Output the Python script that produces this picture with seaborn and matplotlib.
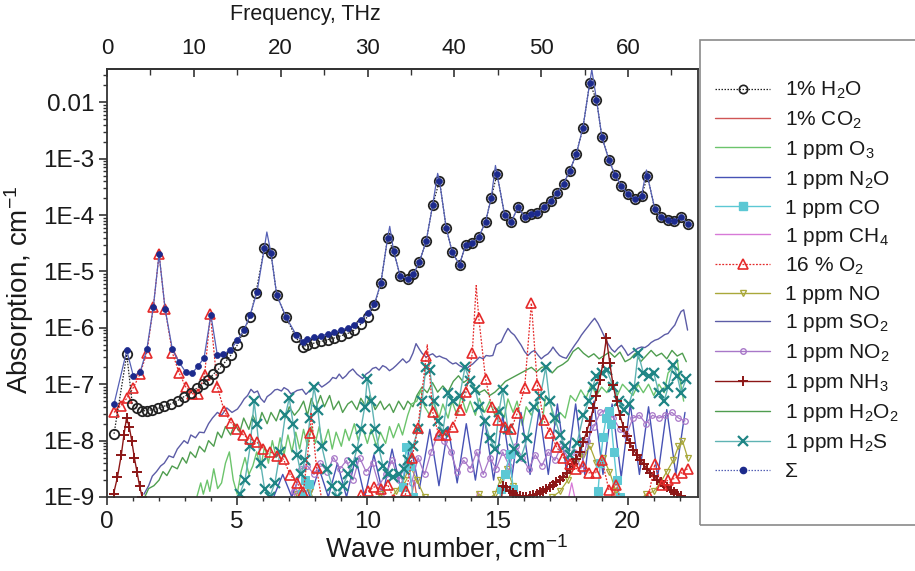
import numpy as np
import matplotlib
matplotlib.use("Agg")
import matplotlib.pyplot as plt
from matplotlib.lines import Line2D
from matplotlib.patches import Rectangle
from matplotlib.ticker import FixedLocator, MultipleLocator, NullFormatter
import seaborn as sns

# ---- data: wave number and log10(absorption, cm-1) ----
h2o_x = [0.27, 0.76, 0.97, 1.17, 1.36, 1.55, 1.74, 1.96, 2.19, 2.45, 2.71, 2.96, 3.22, 3.45, 3.67,
         3.88, 4.09, 4.31, 4.53, 4.75, 5.01, 5.24, 5.49, 5.72, 6.04, 6.3, 6.52, 6.87, 7.26, 7.51,
         7.7, 7.96, 8.22, 8.47, 8.73, 8.99, 9.24, 9.5, 9.76, 10.01, 10.27, 10.52, 10.78, 11.01,
         11.26, 11.55, 11.77, 12.0, 12.26, 12.51, 12.77, 13.03, 13.26, 13.54, 13.77, 14.03, 14.28,
         14.54, 14.76, 14.98, 15.27, 15.53, 15.78, 16.04, 16.27, 16.53, 16.78, 17.04, 17.3, 17.54,
         17.77, 18.03, 18.28, 18.54, 18.8, 19.01, 19.28, 19.51, 19.76, 20.01, 20.27, 20.53, 20.76,
         21.04, 21.27, 21.53, 21.78, 22.04, 22.3]
h2o_lg = [-7.88, -6.47, -7.35, -7.43, -7.47, -7.47, -7.45, -7.43, -7.39, -7.35, -7.29, -7.22, -7.15,
          -7.07, -7.0, -6.92, -6.82, -6.72, -6.61, -6.49, -6.3, -6.06, -5.81, -5.38, -4.59, -4.68,
          -5.42, -5.81, -6.17, -6.34, -6.3, -6.27, -6.24, -6.21, -6.18, -6.14, -6.1, -6.04, -5.93,
          -5.8, -5.6, -5.2, -4.4, -4.64, -5.08, -5.13, -5.05, -4.83, -4.46, -3.82, -3.39, -4.23,
          -4.66, -4.88, -4.53, -4.49, -4.39, -4.12, -3.69, -3.27, -3.99, -4.12, -3.86, -4.03, -3.98,
          -3.96, -3.86, -3.75, -3.6, -3.44, -3.22, -2.91, -2.45, -1.66, -1.95, -2.62, -3.02, -3.29,
          -3.48, -3.63, -3.72, -3.66, -3.31, -3.89, -4.03, -4.09, -4.11, -4.03, -4.15]

sum_x = [0.27, 0.76, 1.01, 1.27, 1.53, 1.78, 2.0, 2.23, 2.51, 2.77, 3.03, 3.28, 3.51, 3.73, 3.99,
         4.24, 4.47, 4.73, 5.01, 5.27, 5.49, 5.76, 6.04, 6.3, 6.52, 6.87, 7.26, 7.51, 7.7, 7.96,
         8.22, 8.47, 8.73, 8.99, 9.24, 9.5, 9.76, 10.01, 10.27, 10.52, 10.78, 11.01, 11.26, 11.55,
         11.77, 12.0, 12.26, 12.51, 12.77, 13.03, 13.26, 13.54, 13.77, 14.03, 14.28, 14.54, 14.76,
         14.98, 15.27, 15.53, 15.78, 16.04, 16.27, 16.53, 16.78, 17.04, 17.3, 17.54, 17.77, 18.03,
         18.28, 18.54, 18.8, 19.01, 19.28, 19.51, 19.76, 20.01, 20.27, 20.53, 20.76, 21.04, 21.27,
         21.53, 21.78, 22.04, 22.3]
sum_lg = [-7.35, -6.4, -6.85, -6.79, -6.38, -5.63, -4.69, -5.66, -6.38, -6.61, -6.79, -6.8, -6.67,
          -6.53, -5.77, -6.49, -6.46, -6.4, -6.22, -6.03, -5.78, -5.37, -4.59, -4.68, -5.42, -5.8,
          -6.12, -6.25, -6.2, -6.17, -6.14, -6.11, -6.08, -6.04, -6.0, -5.95, -5.86, -5.74, -5.58,
          -5.2, -4.4, -4.64, -5.08, -5.13, -5.05, -4.83, -4.46, -3.82, -3.39, -4.23, -4.66, -4.88,
          -4.53, -4.49, -4.39, -4.12, -3.69, -3.27, -3.99, -4.12, -3.86, -4.03, -3.98, -3.96, -3.86,
          -3.75, -3.6, -3.44, -3.22, -2.91, -2.45, -1.66, -1.95, -2.62, -3.02, -3.29, -3.48, -3.63,
          -3.72, -3.66, -3.31, -3.89, -4.03, -4.09, -4.11, -4.03, -4.15]
# line apexes of the summed spectrum between the plotted points
sum_peak_x = [6.14, 10.86, 12.7, 14.92, 18.62, 20.72]
sum_peak_lg = [-4.3, -4.2, -3.26, -3.12, -1.42, -3.2]

o2_x = [0.27, 0.53, 0.76, 1.01, 1.27, 1.53, 1.78, 2.0, 2.23, 2.51, 2.77, 3.03, 3.28, 3.51, 3.75,
        3.97, 4.24, 4.5, 4.76, 5.01, 5.24, 5.5, 5.76, 6.01, 6.27, 6.53, 6.78, 7.04, 7.3, 7.54, 7.8,
        8.05, 8.3, 8.55, 8.8, 9.05, 9.3, 9.55, 9.76, 10.02, 10.27, 10.53, 10.78, 11.03, 11.28, 11.5,
        11.72, 11.94, 12.26, 12.51, 12.74, 13.03, 13.28, 13.54, 13.8, 14.03, 14.28, 14.54, 14.78,
        15.01, 15.27, 15.52, 15.76, 16.04, 16.3, 16.53, 16.78, 17.02, 17.28, 17.53, 17.78, 18.03,
        18.27, 18.5, 18.77, 19.01, 19.28, 19.56, 19.8, 20.05, 20.3, 20.55, 20.8, 21.04, 21.3,
        21.55, 21.83, 22.07, 22.3]
o2_lg = [-7.5, -7.38, -7.25, -7.06, -6.82, -6.44, -5.63, -4.69, -5.66, -6.44, -6.8, -7.05, -7.17,
         -7.17, -6.83, -5.75, -7.05, -7.47, -7.68, -7.8, -7.9, -7.97, -8.03, -8.14, -8.2, -8.27,
         -8.33, -8.61, -8.75, -8.92, -7.87, -8.49, -9.2, -9.4, -9.5, -9.4, -9.3, -9.15, -8.96, -8.9,
         -8.82, -8.86, -8.78, -9.05, -9.2, -8.9, -8.3, -7.77, -6.5, -7.49, -7.9, -7.9, -7.75, -7.45,
         -7.13, -6.45, -5.82, -6.91, -7.41, -7.63, -7.75, -7.8, -7.51, -7.07, -5.56, -7.02, -7.64,
         -7.87, -8.12, -8.3, -8.42, -8.5, -8.45, -8.57, -8.57, -8.34, -8.88, -8.78, -9.2, -9.4,
         -9.4, -9.2, -8.98, -8.42, -8.78, -8.7, -8.67, -8.57, -8.5]
o2_peak_x = [7.84, 12.3, 14.18]
o2_peak_lg = [-7.5, -6.3, -5.25]

so2_x = [1.42, 1.6, 1.74, 1.9, 2.06, 2.2, 2.38, 2.55, 2.7, 2.96, 3.1, 3.22, 3.4, 3.55, 3.73, 3.9,
         4.05, 4.24, 4.4, 4.6, 4.8, 5.01, 5.15, 5.27, 5.4, 5.53, 5.65, 5.78, 5.9, 6.04, 6.15, 6.3,
         6.45, 6.55, 6.7, 6.8, 6.95, 7.06, 7.2, 7.3, 7.5, 7.64, 7.9, 8.1, 8.25, 8.41, 8.55, 8.67,
         8.8, 8.92, 9.05, 9.18, 9.3, 9.44, 9.6, 9.82, 9.95, 10.08, 10.2, 10.33, 10.45, 10.59, 10.72,
         10.85, 10.98, 11.1, 11.25, 11.36, 11.5, 11.62, 11.75, 11.87, 12.0, 12.1, 12.26, 12.4,
         12.51, 12.65, 12.77, 12.9, 13.03, 13.15, 13.28, 13.4, 13.54, 13.67, 13.8, 13.92, 14.05,
         14.18, 14.31, 14.45, 14.56, 14.7, 14.82, 14.95, 15.14, 15.27, 15.4, 15.52, 15.65, 15.78,
         15.91, 16.04, 16.17, 16.3, 16.42, 16.55, 16.68, 16.8, 16.94, 17.05, 17.13, 17.25, 17.38,
         17.5, 17.64, 17.8, 17.96, 18.1, 18.22, 18.35, 18.47, 18.6, 18.73, 18.86, 18.99, 19.1,
         19.24, 19.38, 19.5, 19.63, 19.76, 19.9, 20.01, 20.15, 20.27, 20.4, 20.53, 20.66, 20.79,
         20.9, 21.04, 21.17, 21.3, 21.42, 21.55, 21.68, 21.81, 21.93, 22.05, 22.15, 22.3]
so2_lg = [-8.95, -8.8, -8.63, -8.55, -8.45, -8.4, -8.27, -8.3, -8.15, -8.0, -8.05, -7.9, -7.95,
          -7.85, -7.86, -7.7, -7.6, -7.5, -7.55, -7.42, -7.5, -7.44, -7.35, -7.26, -7.2, -7.09,
          -7.15, -7.12, -7.25, -7.32, -7.22, -7.17, -7.1, -7.09, -7.12, -7.06, -7.1, -7.17, -7.14,
          -7.11, -7.09, -7.18, -7.06, -6.98, -7.05, -7.0, -6.95, -6.88, -6.9, -6.82, -6.9, -6.85,
          -6.78, -6.73, -6.82, -6.9, -6.82, -6.78, -6.72, -6.7, -6.75, -6.67, -6.7, -6.76, -6.72,
          -6.67, -6.6, -6.55, -6.62, -6.58, -6.45, -6.28, -6.38, -6.45, -6.52, -6.48, -6.46, -6.52,
          -6.5, -6.53, -6.55, -6.6, -6.64, -6.62, -6.67, -6.7, -6.73, -6.68, -6.64, -6.58, -6.52,
          -6.55, -6.49, -6.5, -6.49, -6.3, -6.25, -6.12, -6.01, -6.08, -6.13, -6.22, -6.31, -6.42,
          -6.49, -6.43, -6.4, -6.48, -6.55, -6.5, -6.46, -6.4, -6.34, -6.42, -6.49, -6.52, -6.54,
          -6.42, -6.31, -6.22, -6.13, -6.05, -5.98, -5.9, -5.83, -5.92, -6.04, -6.15, -6.28, -6.38,
          -6.43, -6.36, -6.31, -6.4, -6.49, -6.44, -6.4, -6.36, -6.34, -6.35, -6.31, -6.26, -6.22,
          -6.2, -6.16, -6.12, -6.1, -6.02, -5.95, -5.82, -5.71, -5.68, -6.04]

h2o2_x = [1.45, 1.6, 1.8, 2.0, 2.15, 2.3, 2.5, 2.7, 2.9, 3.05, 3.2, 3.4, 3.55, 3.75, 3.9, 4.1, 4.25,
          4.4, 4.55, 4.75, 4.9, 5.1, 5.25, 5.45, 5.6, 5.8, 5.95, 6.15, 6.3, 6.5, 6.65, 6.85, 7.0,
          7.2, 7.38, 7.55, 7.7, 7.85, 8.0, 8.2, 8.35, 8.55, 8.7, 8.9, 9.05, 9.25, 9.4, 9.6, 9.75,
          9.95, 10.1, 10.3, 10.5, 10.65, 10.85, 11.0, 11.2, 11.4, 11.55, 11.75, 11.9, 12.1, 12.3,
          12.5, 12.7, 12.9, 13.1, 13.3, 13.5, 13.7, 13.9, 14.1, 14.3, 14.5, 14.7, 14.9, 15.1, 15.3,
          15.5, 15.7, 15.9, 16.1, 16.3, 16.5, 16.7, 16.9, 17.1, 17.3, 17.5, 17.7, 17.9, 18.1, 18.3,
          18.5, 18.7, 18.9, 19.1, 19.3, 19.5, 19.7, 19.9, 20.1, 20.3, 20.5, 20.7, 20.9, 21.1, 21.3,
          21.5, 21.7, 21.9, 22.1, 22.25]
h2o2_lg = [-9.0, -8.85, -8.8, -8.7, -8.55, -8.62, -8.45, -8.5, -8.3, -8.4, -8.2, -8.3, -8.1, -8.2,
           -8.0, -8.1, -7.85, -7.95, -7.75, -7.9, -7.7, -7.85, -7.6, -7.8, -7.55, -7.75, -7.5, -7.7,
           -7.5, -7.65, -7.45, -7.6, -7.4, -7.55, -7.45, -7.3, -7.55, -7.25, -7.45, -7.2, -7.4,
           -7.2, -7.45, -7.3, -7.5, -7.35, -7.3, -7.45, -7.25, -7.4, -7.2, -7.45, -7.3, -7.45,
           -7.35, -7.5, -7.3, -7.45, -7.3, -7.4, -7.2, -7.05, -7.15, -6.97, -7.14, -7.03, -7.14,
           -6.95, -6.85, -6.97, -6.9, -7.05, -7.15, -7.1, -7.2, -7.14, -7.05, -6.95, -6.9, -6.85,
           -6.8, -6.75, -6.7, -6.78, -6.7, -6.68, -6.8, -6.7, -6.65, -6.58, -6.42, -6.35, -6.45,
           -6.52, -6.46, -6.55, -6.49, -6.43, -6.52, -6.43, -6.6, -6.55, -6.45, -6.6, -6.5, -6.4,
           -6.5, -6.45, -6.55, -6.4, -6.5, -6.45, -6.6]

o3_x = [3.45, 3.6, 3.7, 3.85, 3.95, 4.1, 4.25, 4.4, 4.55, 4.7, 4.85, 5.0, 5.15, 5.3, 5.45, 5.6,
        5.75, 5.9, 6.05, 6.2, 6.35, 6.5, 6.65, 6.8, 6.95, 7.1, 7.25, 7.4, 7.55, 7.7, 7.85, 8.0,
        8.15, 8.3, 8.5, 8.65, 8.8, 9.0, 9.15, 9.3, 9.5, 9.65, 9.8, 10.0, 10.15, 10.35, 10.5, 10.7,
        10.85, 11.0, 11.2, 11.35, 11.55, 11.7, 11.9, 12.05, 12.2, 12.4, 12.55, 12.75, 12.9, 13.1,
        13.25, 13.45, 13.6, 13.8, 13.95, 14.15, 14.3, 14.5, 14.7, 14.9, 15.05, 15.25, 15.4, 15.6,
        15.75, 15.95, 16.1, 16.3, 16.5, 16.7, 16.85, 17.05, 17.2, 17.4, 17.6, 17.8, 18.0, 18.2,
        18.4, 18.6, 18.8, 19.0, 19.2, 19.4, 19.6, 19.8, 20.0, 20.2, 20.4, 20.6, 20.8, 21.0, 21.2,
        21.4, 21.55, 21.75, 21.9, 22.0, 22.15]
o3_lg = [-9.0, -8.75, -8.95, -8.7, -8.9, -8.5, -8.85, -8.75, -8.4, -8.2, -8.7, -8.95, -8.55, -8.3,
         -8.6, -8.45, -8.2, -8.5, -8.1, -8.4, -8.0, -8.3, -7.95, -8.25, -7.9, -8.2, -7.85, -8.15,
         -7.8, -8.1, -7.75, -8.05, -7.75, -8.1, -7.8, -8.15, -7.85, -8.1, -7.8, -8.0, -7.7, -8.0,
         -7.75, -8.05, -7.8, -8.1, -7.85, -8.05, -7.75, -7.95, -7.7, -7.9, -7.55, -7.35, -7.3,
         -7.1, -7.4, -7.55, -7.3, -7.6, -7.35, -7.6, -7.3, -7.55, -7.2, -7.5, -7.3, -7.55, -7.25,
         -7.5, -7.3, -7.55, -7.4, -7.6, -7.26, -7.5, -7.3, -7.73, -7.4, -7.55, -7.3, -7.73, -7.2,
         -7.38, -7.73, -7.5, -7.6, -7.2, -7.3, -7.1, -7.25, -7.0, -7.2, -7.05, -7.15, -6.95, -7.2,
         -7.0, -7.1, -7.2, -7.0, -7.15, -7.0, -7.2, -7.0, -7.15, -6.8, -6.7, -6.55, -6.9, -7.3]

n2o_x = [6.4, 6.75, 7.1, 7.45, 7.8, 8.15, 8.5, 8.85, 9.2, 9.55, 9.9, 10.25, 10.6, 10.95, 11.3,
         11.65, 12.0, 12.4, 12.75, 13.1, 13.45, 13.8, 14.15, 14.5, 14.85, 15.2, 15.55, 15.9, 16.25,
         16.6, 16.95, 17.3, 17.65, 18.0, 18.35, 18.7, 19.05, 19.4, 19.75, 20.1, 20.45, 20.8, 21.15,
         21.5, 21.85, 22.2]
n2o_lg = [-9.0, -8.6, -9.0, -8.55, -9.0, -8.5, -9.0, -8.4, -9.0, -8.3, -9.0, -8.25, -8.95, -8.15,
          -8.9, -8.05, -8.85, -7.8, -8.8, -7.75, -8.75, -7.7, -8.7, -7.6, -8.7, -7.55, -8.65, -7.5,
          -8.6, -7.45, -8.6, -7.35, -8.55, -7.35, -8.6, -7.3, -8.6, -7.35, -8.65, -7.35, -8.6,
          -7.4, -8.65, -7.45, -8.6, -7.5]

no2_x = [7.2, 7.45, 7.7, 7.95, 8.2, 8.45, 8.7, 8.95, 9.2, 9.45, 9.7, 9.95, 10.2, 10.45, 10.7,
         10.95, 11.2, 11.45, 11.7, 11.95, 12.2, 12.45, 12.7, 12.95, 13.2, 13.45, 13.7, 13.95,
         14.2, 14.45, 14.7, 14.95, 15.2, 15.45, 15.7, 15.95, 16.2, 16.45, 16.7, 16.95, 17.2, 17.45,
         17.7, 17.95, 18.2, 18.45, 18.7, 18.95, 19.2, 19.45, 19.7, 19.95, 20.2, 20.45, 20.7, 20.95,
         21.2, 21.45, 21.7, 21.95, 22.2]
no2_lg = [-8.9, -8.5, -8.45, -8.6, -8.4, -8.55, -8.3, -8.5, -8.35, -8.7, -8.3, -8.55, -8.4, -8.8,
          -8.6, -8.35, -8.7, -8.45, -8.75, -8.3, -8.6, -8.2, -7.9, -8.0, -8.2, -8.55, -8.35, -8.5,
          -8.2, -8.6, -8.3, -8.5, -8.2, -8.45, -8.1, -8.3, -8.5, -8.25, -8.45, -8.2, -8.35, -8.1,
          -8.3, -8.2, -8.5, -8.0, -7.75, -7.5, -7.45, -7.6, -7.8, -7.9, -7.6, -7.55, -7.7, -7.55,
          -7.6, -7.55, -7.5, -7.6, -7.65]

no_x = [7.0, 7.3, 7.55, 7.8, 8.1, 8.4, 8.7, 9.0, 9.3, 9.6, 9.9, 10.2, 10.5, 10.8, 11.1, 11.4,
        11.65, 11.9, 12.2, 12.5, 12.8, 13.1, 13.4, 13.7, 14.0, 14.3, 14.6, 14.9, 15.1, 15.35, 15.6,
        15.9, 16.2, 16.5, 16.8, 17.1, 17.4, 17.7, 18.0, 18.3, 18.55, 18.8, 19.05, 19.3, 19.55,
        19.8, 20.1, 20.4, 20.7, 21.0, 21.25, 21.5, 21.75, 21.95, 22.1, 22.3]
no_lg = [-9.3, -8.95, -8.7, -8.9, -9.2, -9.3, -9.2, -9.3, -9.2, -9.3, -9.2, -9.1, -8.95, -9.1,
         -8.9, -8.7, -8.45, -8.7, -9.0, -9.2, -9.3, -9.2, -9.1, -9.2, -9.1, -8.95, -9.05, -8.95,
         -8.7, -8.5, -8.8, -9.2, -9.3, -9.2, -9.1, -9.0, -8.9, -8.7, -8.4, -8.25, -8.1, -8.4, -8.3,
         -8.55, -8.9, -9.1, -9.2, -9.1, -8.95, -8.9, -8.75, -8.55, -8.35, -8.1, -8.0, -8.3]

co_x = [7.35, 7.5, 7.62, 7.77, 7.9, 9.5, 11.2, 11.36, 11.49, 11.62, 11.75, 13.5, 15.0, 15.14,
        15.3, 15.46, 15.6, 15.75, 17.5, 18.7, 18.86, 18.95, 19.05, 19.17, 19.28, 19.37, 19.47,
        19.58, 19.69, 19.8]
co_lg = [-9.3, -8.95, -8.7, -8.77, -9.2, -9.8, -9.2, -8.83, -8.12, -8.45, -9.0, -9.8, -9.3, -8.86,
         -8.6, -8.24, -8.85, -9.2, -9.8, -9.3, -8.89, -8.4, -7.94, -7.6, -7.47, -7.7, -8.21, -8.7,
         -9.0, -9.3]

nh3_x = [0.25, 0.4, 0.55, 0.65, 0.75, 0.85, 0.95, 1.05, 1.15, 1.25, 1.35, 1.5, 15.1, 15.2, 15.33,
         15.46, 15.6, 15.72, 15.85, 15.98, 16.1, 16.23, 16.36, 16.5, 16.62, 16.75, 16.88, 17.0,
         17.13, 17.26, 17.39, 17.52, 17.65, 17.78, 17.9, 18.03, 18.16, 18.29, 18.42, 18.55, 18.68,
         18.8, 18.93, 19.05, 19.18, 19.31, 19.44, 19.57, 19.7, 19.83, 19.96, 20.09, 20.22, 20.35,
         20.48, 20.61, 20.74, 20.87, 21.0, 21.13, 21.26, 21.39, 21.52, 21.65, 21.78, 21.91, 22.04]
nh3_lg = [-8.95, -8.65, -8.25, -7.9, -7.6, -7.75, -8.0, -8.3, -8.55, -8.8, -9.0, -9.3, -9.3, -8.8,
          -8.83, -8.9, -8.93, -8.96, -8.98, -9.0, -9.0, -8.99, -8.97, -8.95, -8.92, -8.89, -8.86,
          -8.82, -8.78, -8.74, -8.69, -8.64, -8.58, -8.5, -8.42, -8.33, -8.2, -8.02, -7.85, -7.65,
          -7.43, -7.2, -6.92, -6.62, -6.18, -6.62, -7.02, -7.3, -7.55, -7.75, -7.92, -8.05, -8.16,
          -8.26, -8.34, -8.42, -8.5, -8.57, -8.63, -8.69, -8.74, -8.79, -8.83, -8.87, -8.91, -8.95,
          -8.99]

h2s_x = [5.1, 5.3, 5.5, 5.65, 5.75, 5.9, 6.05, 6.25, 6.45, 6.65, 6.85, 7.0, 7.15, 7.3, 7.45, 7.6,
         7.8, 7.95, 8.1, 8.25, 8.45, 8.65, 8.85, 9.05, 9.25, 9.45, 9.6, 9.75, 9.9, 10.0, 10.15,
         10.3, 10.45, 10.6, 10.8, 11.0, 11.2, 11.4, 11.55, 11.75, 11.95, 12.1, 12.25, 12.4, 12.55,
         12.7, 12.9, 13.1, 13.3, 13.55, 13.75, 13.95, 14.15, 14.3, 14.5, 14.7, 14.9, 15.05, 15.2,
         15.4, 15.65, 15.9, 16.15, 16.4, 16.65, 16.85, 17.0, 17.2, 17.4, 17.6, 17.8, 18.05, 18.3,
         18.5, 18.65, 18.8, 19.0, 19.2, 19.45, 19.65, 19.85, 20.05, 20.25, 20.4, 20.6, 20.8, 21.0,
         21.2, 21.4, 21.55, 21.75, 21.9, 22.05, 22.25]
h2s_lg = [-8.95, -8.7, -8.1, -7.3, -7.7, -8.4, -8.85, -9.0, -8.75, -8.2, -7.55, -7.25, -7.7, -8.25,
          -8.6, -8.35, -7.6, -7.05, -7.45, -8.1, -8.5, -8.8, -9.0, -8.8, -8.6, -8.4, -8.15, -7.8,
          -7.4, -6.9, -7.3, -7.8, -8.15, -8.45, -8.6, -8.65, -8.6, -8.5, -8.35, -8.1, -7.8, -7.3,
          -6.7, -6.75, -7.3, -7.65, -7.85, -7.15, -7.3, -7.2, -6.7, -6.95, -7.1, -7.4, -7.65,
          -7.95, -8.15, -7.5, -7.1, -7.8, -8.15, -8.3, -7.95, -7.4, -7.2, -6.7, -7.3, -7.6, -7.9,
          -8.1, -8.25, -8.05, -7.55, -7.3, -7.05, -6.85, -6.8, -6.75, -7.05, -7.3, -7.45, -7.35,
          -7.05, -6.45, -6.8, -6.85, -6.8, -7.15, -7.3, -7.05, -6.65, -6.85, -7.15, -6.9]

ch4_x = [6.9, 7.15, 7.35, 10.3, 10.55, 10.8, 14.0, 14.25, 14.5, 17.6, 17.85, 18.1]
ch4_lg = [-9.3, -8.85, -9.3, -9.3, -8.8, -9.3, -9.3, -8.9, -9.3, -9.3, -8.75, -9.3]

co2_x = [11.6, 11.8, 12.0, 19.3, 19.45, 19.6]
co2_lg = [-9.3, -8.7, -9.3, -9.3, -8.75, -9.3]

y_tick_vals = [1e-9, 1e-8, 1e-7, 1e-6, 1e-5, 1e-4, 1e-3, 1e-2]
y_tick_labels = ["1E-9", "1E-8", "1E-7", "1E-6", "1E-5", "1E-4", "1E-3", "0.01"]
thz_per_unit = 2.998

# ---- styles ----
c_h2o = "#222222"
c_co2 = "#d05555"
c_o3 = "#6cc46c"
c_n2o = "#4752b5"
c_co = "#5cc8d4"
c_ch4 = "#d77ad7"
c_o2 = "#e52a2a"
c_no = "#a9a83a"
c_so2 = "#5c5ca6"
c_no2 = "#a877c8"
c_nh3 = "#8c1616"
c_h2o2 = "#4f9d4f"
c_h2s = "#1f8585"
c_h2s_line = "#5fb3b3"
c_sum = "#1c2a8c"
c_sum_line = "#5560b5"
c_txt = "#1a1a1a"

sns.set_theme(style="ticks")
plt.rcParams["font.family"] = ["Liberation Sans", "DejaVu Sans"]
plt.rcParams["mathtext.fontset"] = "custom"
plt.rcParams["mathtext.rm"] = "Liberation Sans"
plt.rcParams["mathtext.it"] = "Liberation Sans"

fig = plt.figure(figsize=(9.15, 5.71), dpi=100)
ax = fig.add_axes([107 / 915, 1 - 497 / 571, (698 - 107) / 915, (497 - 69) / 571])


def draw(x, lg, **kw):
    sns.lineplot(x=np.asarray(x, float), y=10.0 ** np.asarray(lg, float), ax=ax,
                 sort=False, estimator=None, **kw)


def merged(x, lg, px, plg):
    xs = np.concatenate([x, px])
    ys = np.concatenate([lg, plg])
    order = np.argsort(xs)
    return xs[order], ys[order]


# background molecules first
draw(co2_x, co2_lg, color=c_co2, lw=0.9)
draw(ch4_x, ch4_lg, color=c_ch4, lw=0.9)
draw(so2_x, so2_lg, color=c_so2, lw=1.0)
draw(h2o2_x, h2o2_lg, color=c_h2o2, lw=1.0)
draw(o3_x, o3_lg, color=c_o3, lw=1.0)
draw(n2o_x, n2o_lg, color=c_n2o, lw=1.0)
draw(no_x, no_lg, color=c_no, lw=0.9, marker="v", markersize=4,
     markerfacecolor="none", markeredgecolor=c_no, markeredgewidth=0.9)
draw(no2_x, no2_lg, color=c_no2, lw=0.9, marker="o", markersize=4,
     markerfacecolor="none", markeredgecolor=c_no2, markeredgewidth=0.9)
draw(co_x, co_lg, color=c_co, lw=1.0, marker="s", markersize=6,
     markerfacecolor=c_co, markeredgecolor=c_co)
draw(h2s_x, h2s_lg, color=c_h2s_line, lw=1.0, marker="x", markersize=7,
     markeredgecolor=c_h2s, markeredgewidth=1.6)
draw(nh3_x, nh3_lg, color=c_nh3, lw=1.0, marker="+", markersize=7,
     markeredgecolor=c_nh3, markeredgewidth=1.4)

# oxygen: line through apexes, triangles at the sampled points
o2lx, o2ly = merged(o2_x, o2_lg, o2_peak_x, o2_peak_lg)
draw(o2lx, o2ly, color=c_o2, lw=0.9, linestyle=(0, (1.5, 1.2)))
draw(o2_x, o2_lg, color=c_o2, lw=0, marker="^", markersize=7.5,
     markerfacecolor="none", markeredgecolor=c_o2, markeredgewidth=1.2)

# water and total
draw(h2o_x, h2o_lg, color=c_h2o, lw=0.9, linestyle=(0, (1.2, 1.2)), marker="o",
     markersize=6.8, markerfacecolor="none", markeredgecolor=c_h2o, markeredgewidth=1.3)
slx, sly = merged(sum_x, sum_lg, sum_peak_x, sum_peak_lg)
draw(slx, sly, color=c_sum_line, lw=0.9)
draw(sum_x, sum_lg, color=c_sum, lw=0, marker="o", markersize=4.3,
     markerfacecolor=c_sum, markeredgecolor=c_sum, markeredgewidth=0.5)

# ---- axes ----
ax.set_yscale("log")
ax.set_ylim(1e-9, 0.039)
ax.set_xlim(0, 22.7)
ax.yaxis.set_major_locator(FixedLocator(y_tick_vals))
ax.set_yticklabels(y_tick_labels)
ax.yaxis.set_minor_formatter(NullFormatter())
ax.xaxis.set_major_locator(MultipleLocator(5))
ax.xaxis.set_minor_locator(MultipleLocator(1))
ax.tick_params(axis="both", which="major", direction="out", length=6, width=1.2,
               color="#333333", labelsize=17.5, labelcolor=c_txt)
ax.tick_params(axis="both", which="minor", direction="out", length=3, width=1.0, color="#333333")
ax.tick_params(axis="x", which="major", pad=4)
ax.tick_params(axis="y", which="major", pad=3)
for side in ["left", "bottom", "top", "right"]:
    ax.spines[side].set_visible(True)
    ax.spines[side].set_color("#333333")
    ax.spines[side].set_linewidth(1.3)
ax.set_xlabel("Wave number, cm$^{-1}$", fontsize=19.5, color=c_txt)
ax.xaxis.set_label_coords(0.574, -0.083)
ax.set_ylabel("Absorption, cm$^{-1}$", fontsize=20, color=c_txt)
ax.yaxis.set_label_coords(-0.12, 0.484)

top = ax.secondary_xaxis("top", functions=(lambda w: w * thz_per_unit,
                                           lambda f: f / thz_per_unit))
top.xaxis.set_major_locator(MultipleLocator(10))
top.xaxis.set_minor_locator(MultipleLocator(5))
top.tick_params(which="major", direction="in", length=6, width=1.2, color="#333333",
                labelsize=16, labelcolor=c_txt, pad=7.5)
top.tick_params(which="minor", direction="in", length=4, width=1.0, color="#333333")
top.set_xlabel("Frequency, THz", fontsize=15.5, color=c_txt, labelpad=12.5)
top.xaxis.label.set_x(0.335)

# ---- legend in a box that runs off the right edge ----
fig.patches.append(Rectangle((700 / 915, 1 - 525 / 571), 0.3, (525 - 40) / 571,
                             transform=fig.transFigure, fill=False,
                             edgecolor="#8a8a8a", linewidth=1.2))
handles = [
    Line2D([], [], color=c_h2o, lw=0.9, linestyle=(0, (1.2, 1.2)), marker="o", markersize=6,
           markerfacecolor="none", markeredgecolor=c_h2o, markeredgewidth=1.2),
    Line2D([], [], color=c_co2, lw=1.0),
    Line2D([], [], color=c_o3, lw=1.0),
    Line2D([], [], color=c_n2o, lw=1.0),
    Line2D([], [], color=c_co, lw=1.0, marker="s", markersize=6, markerfacecolor=c_co,
           markeredgecolor=c_co),
    Line2D([], [], color=c_ch4, lw=1.0),
    Line2D([], [], color=c_o2, lw=0.9, linestyle=(0, (1.5, 1.2)), marker="^", markersize=7,
           markerfacecolor="none", markeredgecolor=c_o2, markeredgewidth=1.2),
    Line2D([], [], color=c_no, lw=1.0, marker="v", markersize=4, markerfacecolor="none",
           markeredgecolor=c_no),
    Line2D([], [], color=c_so2, lw=1.0),
    Line2D([], [], color=c_no2, lw=1.0, marker="o", markersize=4, markerfacecolor="none",
           markeredgecolor=c_no2),
    Line2D([], [], color=c_nh3, lw=1.0, marker="+", markersize=7, markeredgecolor=c_nh3,
           markeredgewidth=1.4),
    Line2D([], [], color=c_h2o2, lw=1.0),
    Line2D([], [], color=c_h2s_line, lw=1.0, marker="x", markersize=7, markeredgecolor=c_h2s,
           markeredgewidth=1.6),
    Line2D([], [], color=c_sum_line, lw=0.9, linestyle=(0, (1.2, 1.2)), marker="o",
           markersize=4.5, markerfacecolor=c_sum, markeredgecolor=c_sum),
]
labels = ["1% H$_2$O", "1% CO$_2$", "1 ppm O$_3$", "1 ppm N$_2$O", "1 ppm CO", "1 ppm CH$_4$",
          "16 % O$_2$", "1 ppm NO", "1 ppm SO$_2$", "1 ppm NO$_2$", "1 ppm NH$_3$",
          "1 ppm H$_2$O$_2$", "1 ppm H$_2$S", "\u03a3"]
fig.legend(handles, labels, loc="upper left", bbox_to_anchor=(715 / 915, 1 - 80 / 571),
           frameon=False, fontsize=15, handlelength=2.65, handletextpad=0.7,
           labelspacing=0.385, borderaxespad=0, borderpad=0, labelcolor=c_txt)

fig.savefig("out.png", dpi=100)
